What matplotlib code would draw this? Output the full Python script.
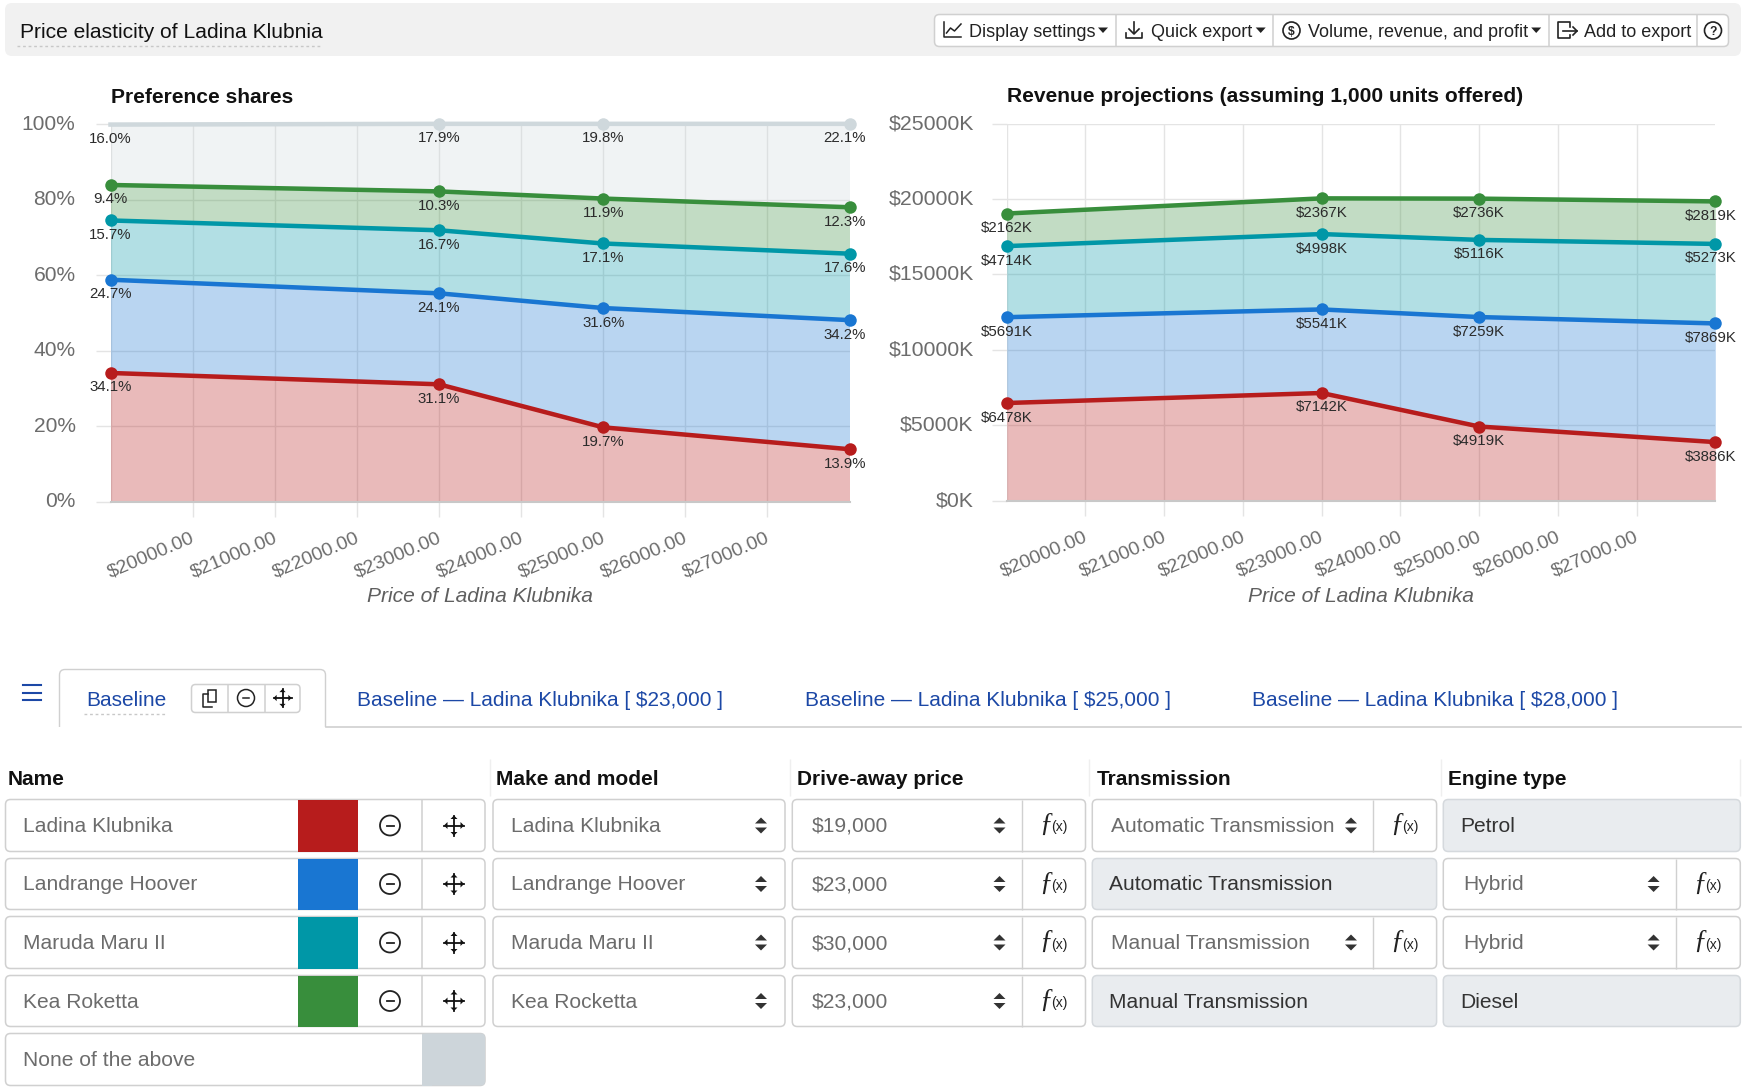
import numpy as np
import matplotlib
matplotlib.use('Agg')
import matplotlib.pyplot as plt
from matplotlib.patches import FancyBboxPatch, Rectangle, Circle, Polygon, PathPatch
from matplotlib.path import Path
from matplotlib.ticker import FuncFormatter
from matplotlib.transforms import ScaledTranslation

plt.rcParams['font.family'] = 'Liberation Sans'

# --- data
PRICES = [19000, 23000, 25000, 28000]
PRICE_TICKS = [20000, 21000, 22000, 23000, 24000, 25000, 26000, 27000]

SHARE_KLUBNIKA = [34.1, 31.1, 19.7, 13.9]
SHARE_HOOVER = [24.7, 24.1, 31.6, 34.2]
SHARE_MARU = [15.7, 16.7, 17.1, 17.6]
SHARE_ROKETTA = [9.4, 10.3, 11.9, 12.3]
SHARE_NONE = [16.0, 17.9, 19.8, 22.1]

REV_KLUBNIKA = [6478, 7142, 4919, 3886]
REV_HOOVER = [5691, 5541, 7259, 7869]
REV_MARU = [4714, 4998, 5116, 5273]
REV_ROKETTA = [2162, 2367, 2736, 2819]

SHARE_TICKS = [0, 20, 40, 60, 80, 100]
REV_TICKS = [0, 5000, 10000, 15000, 20000, 25000]

RED = '#b71c1c'
BLUE = '#1976d2'
TEAL = '#0097a7'
GREEN = '#388e3c'
NONE_GREY = '#cfd8dc'

TOOLBAR_LABELS = ['Display settings', 'Quick export', 'Volume, revenue, and profit', 'Add to export']
TAB_LABELS = ['Baseline', 'Baseline \u2014 Ladina Klubnika [ $23,000 ]',
              'Baseline \u2014 Ladina Klubnika [ $25,000 ]', 'Baseline \u2014 Ladina Klubnika [ $28,000 ]']
HEADERS = ['Name', 'Make and model', 'Drive-away price', 'Transmission', 'Engine type']
NAMES = ['Ladina Klubnika', 'Landrange Hoover', 'Maruda Maru II', 'Kea Roketta']
SWATCHES = [RED, BLUE, TEAL, GREEN]
MODELS = ['Ladina Klubnika', 'Landrange Hoover', 'Maruda Maru II', 'Kea Rocketta']
ROW_PRICES = ['$19,000', '$23,000', '$30,000', '$23,000']
TRANSMISSIONS = ['Automatic Transmission', 'Automatic Transmission', 'Manual Transmission', 'Manual Transmission']
TRANS_LOCKED = [False, True, False, True]
ENGINES = ['Petrol', 'Hybrid', 'Hybrid', 'Diesel']
ENGINE_LOCKED = [True, False, False, True]

W, H = 1744, 1090
PX = 0.72  # points per pixel at dpi 100
GRID = '#e4e4e4'
BORDER = '#d0d0d0'
TAB_BLUE = '#1c48a6'
MUTED = '#6c6c6c'

fig = plt.figure(figsize=(W / 100, H / 100), dpi=100, facecolor='white')

# overlay in pixel coordinates for the app chrome around the charts
ui = fig.add_axes([0, 0, 1, 1], zorder=0)
ui.set_xlim(0, W)
ui.set_ylim(H, 0)
ui.axis('off')


def box(x0, y0, x1, y1, fc='white', ec=BORDER, r=5, lw=1.1):
    ui.add_patch(FancyBboxPatch((x0, y0), x1 - x0, y1 - y0, boxstyle=f'round,pad=0,rounding_size={r}',
                                fc=fc, ec=ec, lw=lw))


def vline(x, y0, y1, color=BORDER, lw=1.1):
    ui.plot([x, x], [y0, y1], color=color, lw=lw, solid_capstyle='butt')


def label(x, y, s, size=21, color='#222222', **kw):
    kw.setdefault('va', 'center_baseline')
    ui.text(x, y, s, fontsize=size * PX, color=color, **kw)


def spinner(x, y):
    ui.add_patch(Polygon([(x - 6, y - 2), (x + 6, y - 2), (x, y - 8)], fc='#333333', ec='none'))
    ui.add_patch(Polygon([(x - 6, y + 2), (x + 6, y + 2), (x, y + 8)], fc='#333333', ec='none'))


def caret(x, y):
    ui.add_patch(Polygon([(x - 5, y - 2.5), (x + 5, y - 2.5), (x, y + 3)], fc='#222222', ec='none'))


def minus_icon(x, y, r=10, lw=1.3):
    ui.add_patch(Circle((x, y), r, fc='none', ec='#222222', lw=lw))
    ui.plot([x - r * 0.35, x + r * 0.35], [y, y], color='#222222', lw=lw)


def move_icon(x, y, r=10):
    ui.plot([x - r, x + r], [y, y], color='#111111', lw=1.3)
    ui.plot([x, x], [y - r, y + r], color='#111111', lw=1.3)
    a = r * 0.35
    for dx, dy in [(1, 0), (-1, 0), (0, 1), (0, -1)]:
        tip = (x + dx * r, y + dy * r)
        base = (x + dx * (r - a), y + dy * (r - a))
        ui.add_patch(Polygon([tip, (base[0] + dy * a, base[1] + dx * a), (base[0] - dy * a, base[1] - dx * a)],
                             fc='#111111', ec='none'))


def fx_icon(x, y):
    ui.text(x - 8, y - 1, '\u0192', fontsize=27 * PX, family='Liberation Serif', style='italic',
            ha='center', va='center', color='#222222')
    ui.text(x + 5, y + 2, '(x)', fontsize=14 * PX, ha='center', va='center', color='#222222')


# --- top toolbar
box(5, 3, 1741, 56, fc='#f1f1f1', ec='none', r=7)
label(19.5, 30, 'Price elasticity of Ladina Klubnia', color='#111111')
ui.plot([17, 322], [45.5, 45.5], color='#c8c8c8', lw=1, ls=(0, (2, 2)))

box(934.5, 14.5, 1728.5, 46.5, r=5)
for x in [1115.8, 1272.8, 1549, 1696.5]:
    vline(x, 14.5, 46.5)
for x, s in zip([968.7, 1150.5, 1308, 1583.6], TOOLBAR_LABELS):
    label(x, 30.5, s, size=18, color='#222222')
for x in [1103, 1260.7, 1536.2]:
    caret(x, 30)

# toolbar icons
ui.plot([943.5, 943.5, 961], [22, 37, 37], color='#222222', lw=1.1)
ui.plot([946.5, 950.5, 954.5, 961], [33, 28, 31, 24], color='#222222', lw=1.1)
ui.plot([1134, 1134], [22, 33], color='#222222', lw=1.2)
ui.plot([1129, 1134, 1139], [29, 34, 29], color='#222222', lw=1.2)
ui.plot([1126, 1126, 1142, 1142], [33, 38, 38, 33], color='#222222', lw=1.2)
ui.add_patch(Circle((1291.5, 30.5), 8.5, fc='none', ec='#222222', lw=1.2))
label(1291.5, 30.5, '$', size=12, ha='center', weight='bold')
ui.plot([1570, 1570, 1565, 1558, 1558, 1570, 1570], [27, 22, 22, 22, 38, 38, 35], color='#222222', lw=1.2)
ui.plot([1563, 1577], [31, 31], color='#222222', lw=1.2)
ui.plot([1573, 1577, 1573], [27, 31, 35], color='#222222', lw=1.2)
ui.add_patch(Circle((1713, 30.5), 8.5, fc='none', ec='#222222', lw=1.2))
label(1713, 30.5, '?', size=12, ha='center', weight='bold')


# --- charts
def chart_axes(x0, x1, y_top, y_zero, ypad, ysize):
    ax = fig.add_axes([x0 / W, 1 - y_zero / H, (x1 - x0) / W, (y_zero - y_top) / H], zorder=2)
    ax.patch.set_visible(False)
    ax.set_xlim(PRICES[0], PRICES[-1])
    ax.set_axisbelow(True)
    for name in ['top', 'right', 'left']:
        ax.spines[name].set_visible(False)
    ax.spines['bottom'].set_color('#c8c8c8')
    ax.spines['bottom'].set_linewidth(1.5)
    ax.set_xticks(PRICE_TICKS)
    ax.set_xticklabels([f'${p}.00' for p in PRICE_TICKS], rotation=23, ha='right', rotation_mode='anchor',
                       fontsize=19.5 * PX, color=MUTED)
    ax.tick_params(axis='x', length=15 * PX, width=1.4 * PX, color=GRID, pad=13 * PX)
    ax.tick_params(axis='y', length=15 * PX, width=1.4 * PX, color=GRID, pad=ypad * PX,
                   labelsize=ysize * PX, labelcolor=MUTED)
    ax.grid(True, color=GRID, lw=1.4 * PX)
    ax.axvline(PRICES[0], color=GRID, lw=1.4 * PX, zorder=0.5)
    ax.set_xlabel('Price of Ladina Klubnika', fontsize=21 * PX, style='italic', color='#5f5f5f', va='center')
    ax.xaxis.set_label_coords(0.5, -(597 - y_zero) / (y_zero - y_top))
    # rotated labels end a little left of their ticks in the reference
    xoff = ScaledTranslation(-2 / 100, 0, fig.dpi_scale_trans)
    for t in ax.get_xticklabels():
        t.set_transform(t.get_transform() + xoff)
    return ax


def lift_yticks(ax):
    # tick labels sit about 2 px above their grid lines in the reference
    offset = ScaledTranslation(0, 2 / 100, fig.dpi_scale_trans)
    for t in ax.get_yticklabels():
        t.set_transform(t.get_transform() + offset)


def draw_stack(ax, layers, colors, fmt, skip_first_marker=None):
    prev = np.zeros(len(PRICES))
    for values, color in zip(layers, colors):
        top = prev + np.array(values)
        ax.fill_between(PRICES, prev, top, color=color, alpha=0.3, lw=0, zorder=2)
        every = [1, 2, 3] if color == skip_first_marker else None
        ax.plot(PRICES, top, color=color, lw=4.5 * PX, marker='o', ms=12.5 * PX, mew=0, markevery=every,
                clip_on=False, zorder=3, solid_joinstyle='round')
        for i, (p, y, v) in enumerate(zip(PRICES, top, values)):
            dx = -4.5 if i == len(PRICES) - 1 else 0
            ax.annotate(fmt(v), (p, y), xytext=(dx * PX, -14.5 * PX), textcoords='offset points', ha='center',
                        va='center', fontsize=15 * PX, color='#2b2b2b', annotation_clip=False, zorder=4)
        prev = top


ax1 = chart_axes(110.5, 849.5, 124.2, 501.7, 20, 21)
ax1.set_ylim(0, 100)
ax1.set_yticks(SHARE_TICKS)
ax1.yaxis.set_major_formatter(FuncFormatter(lambda v, _: f'{v:.0f}%'))
ax1.set_title('Preference shares', loc='left', fontsize=21 * PX, fontweight='bold', color='#111111', pad=15.5)
lift_yticks(ax1)
draw_stack(ax1, [SHARE_KLUBNIKA, SHARE_HOOVER, SHARE_MARU, SHARE_ROKETTA, SHARE_NONE],
           [RED, BLUE, TEAL, GREEN, NONE_GREY], lambda v: f'{v:.1f}%', skip_first_marker=NONE_GREY)

ax2 = chart_axes(1006.7, 1715.3, 123.7, 500.7, 18, 21.3)
ax2.set_ylim(0, 25000)
ax2.set_yticks(REV_TICKS)
ax2.yaxis.set_major_formatter(FuncFormatter(lambda v, _: f'${v:.0f}K'))
ax2.set_title('Revenue projections (assuming 1,000 units offered)', loc='left', fontsize=21 * PX,
              fontweight='bold', color='#111111', pad=15.5)
lift_yticks(ax2)
draw_stack(ax2, [REV_KLUBNIKA, REV_HOOVER, REV_MARU, REV_ROKETTA], [RED, BLUE, TEAL, GREEN], lambda v: f'${v}K')

# --- tab strip
for y in [685, 692.5, 700]:
    ui.plot([22.5, 41], [y, y], color=TAB_BLUE, lw=1.5)
tab_verts = [(59.5, 727), (59.5, 675), (59.5, 669.5), (65, 669.5), (320, 669.5), (325.5, 669.5), (325.5, 675),
             (325.5, 727)]
tab_codes = [Path.MOVETO, Path.LINETO, Path.CURVE3, Path.CURVE3, Path.LINETO, Path.CURVE3, Path.CURVE3, Path.LINETO]
ui.add_patch(PathPatch(Path(tab_verts, tab_codes), fc='none', ec=BORDER, lw=1))
ui.plot([325.5, 1741], [726.5, 726.5], color=BORDER, lw=1.2)
for x, s in zip([86.5, 357, 804.6, 1252], TAB_LABELS):
    label(x, 698, s, size=20.9, color=TAB_BLUE)
ui.plot([84, 167], [714, 714], color='#c8c8c8', lw=1, ls=(0, (2, 2)))
box(191.5, 684.5, 300, 712.5, r=4)
vline(228, 684.5, 712.5)
vline(264.5, 684.5, 712.5)
ui.add_patch(Rectangle((207.5, 690), 8.5, 12, fc='white', ec='#222222', lw=1.1))
ui.plot([207.5, 203, 203, 212], [694, 694, 706.5, 706.5], color='#222222', lw=1.1)
minus_icon(246, 698, r=8.5, lw=1.1)
move_icon(282.5, 698, r=9)

# --- scenario table
COL_EDGES = [(5.5, 485), (493, 785), (792.3, 1085.5), (1092.3, 1436.6), (1443.3, 1740.3)]
ROW_EDGES = [(799.5, 851.5), (858.5, 909.5), (916.5, 968.5), (975.5, 1026.5)]
LOCKED_FILL = '#e9ecef'

for x, s in zip([7.5, 496, 796.6, 1097.2, 1447.6], HEADERS):
    label(x, 777.5, s, size=20.9, color='#111111', weight='bold')
for x in [489.5, 789.5, 1089.2, 1441, 1739.7]:
    vline(x, 759, 796, color='#efefef', lw=1)

for i, (y0, y1) in enumerate(ROW_EDGES):
    yc = (y0 + y1) / 2
    ty = yc - 1
    # name column
    box(COL_EDGES[0][0], y0, COL_EDGES[0][1], y1)
    label(22.5, ty, NAMES[i], color=MUTED)
    ui.add_patch(Rectangle((298, y0), 60, y1 - y0, fc=SWATCHES[i], ec='none', zorder=3))
    vline(422, y0, y1)
    minus_icon(390, yc)
    move_icon(454, yc)
    # model column
    box(COL_EDGES[1][0], y0, COL_EDGES[1][1], y1)
    label(511, ty, MODELS[i], color=MUTED)
    spinner(761, yc)
    # price column
    box(COL_EDGES[2][0], y0, COL_EDGES[2][1], y1)
    label(811.5, ty, ROW_PRICES[i], color=MUTED)
    spinner(999.5, yc)
    vline(1022.2, y0, y1, lw=1)
    fx_icon(1054, yc)
    # transmission column
    if TRANS_LOCKED[i]:
        box(COL_EDGES[3][0], y0, COL_EDGES[3][1], y1, fc=LOCKED_FILL, ec='#d5d9dd')
        label(1108.9, ty, TRANSMISSIONS[i], color='#333333')
    else:
        box(COL_EDGES[3][0], y0, COL_EDGES[3][1], y1)
        label(1111, ty, TRANSMISSIONS[i], color=MUTED)
        spinner(1351, yc)
        vline(1373.3, y0, y1, lw=1)
        fx_icon(1405.2, yc)
    # engine column
    if ENGINE_LOCKED[i]:
        box(COL_EDGES[4][0], y0, COL_EDGES[4][1], y1, fc=LOCKED_FILL, ec='#d5d9dd')
        label(1460, ty, ENGINES[i], color='#333333')
    else:
        box(COL_EDGES[4][0], y0, COL_EDGES[4][1], y1)
        label(1463, ty, ENGINES[i], color=MUTED)
        spinner(1653.6, yc)
        vline(1676.3, y0, y1, lw=1)
        fx_icon(1708.3, yc)

# none of the above row
box(5.5, 1033.5, 485, 1085.5)
ui.add_patch(FancyBboxPatch((422, 1033.5), 63, 52, boxstyle='round,pad=0,rounding_size=4', fc='#cdd5da', ec='none'))
ui.add_patch(Rectangle((422, 1033.5), 10, 52, fc='#cdd5da', ec='none'))
label(22.5, 1058.5, 'None of the above', color=MUTED)

fig.savefig('out.png', dpi=100)
